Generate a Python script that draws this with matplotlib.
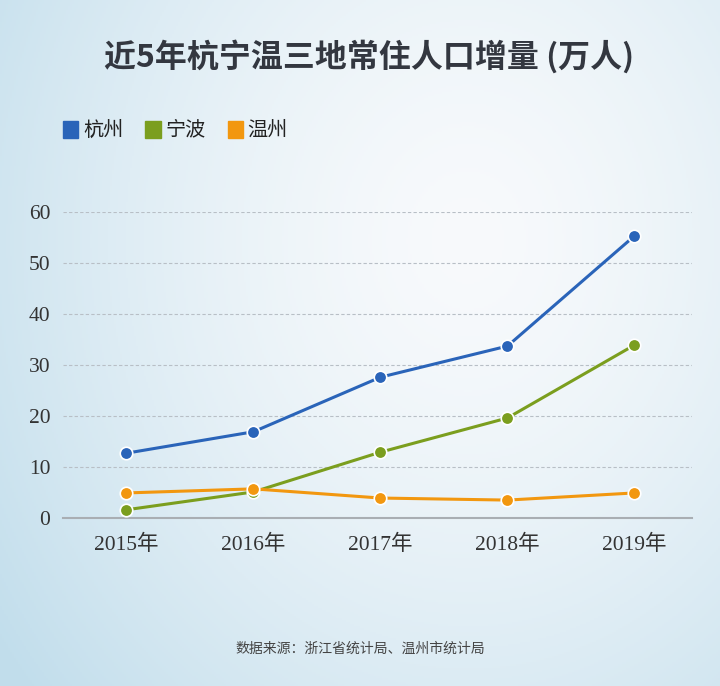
import numpy as np
import matplotlib
matplotlib.use("Agg")
import matplotlib.pyplot as plt

plt.rcParams['font.family'] = ['Noto Sans CJK SC', 'DejaVu Sans']

years = ["2015年", "2016年", "2017年", "2018年", "2019年"]
hangzhou = [12.7, 16.9, 27.6, 33.7, 55.3]
ningbo = [1.6, 5.1, 12.9, 19.6, 33.9]
wenzhou = [4.9, 5.7, 3.9, 3.5, 4.9]
series_names = ["杭州", "宁波", "温州"]
colors = ["#2a64b9", "#7b9e1e", "#f2970f"]
yticks = [0, 10, 20, 30, 40, 50, 60]

fig = plt.figure(figsize=(7.2, 6.86), dpi=100)

# background gradient: light blue at left / bottom-left, near white in middle
bg = fig.add_axes([0, 0, 1, 1], zorder=-10)
h, w = 343, 360
yy, xx = np.mgrid[0:1:h * 1j, 0:1:w * 1j]   # yy=0 top
d = np.sqrt(((xx - 0.65) / 0.8) ** 2 + ((yy - 0.35) / 1.0) ** 2)
t = np.clip(d, 0, 1) ** 1.5
white = np.array([0.972, 0.980, 0.988])
blue = np.array([0.76, 0.87, 0.925])
img = white[None, None, :] * (1 - t[..., None]) + blue[None, None, :] * t[..., None]
bg.imshow(img, extent=[0, 1, 0, 1], aspect="auto", origin="upper")
bg.set_axis_off()

ax = fig.add_axes([0.0875, 0.245, 0.873, 0.446])
ax.patch.set_alpha(0)
x = np.arange(len(years))
for vals, c in zip([hangzhou, ningbo, wenzhou], colors):
    ax.plot(x, vals, color=c, lw=2.2, marker="o", ms=9,
            mfc=c, mec="white", mew=1.2, zorder=3)

ax.set_ylim(0, 60)
ax.set_xlim(-0.5, 4.45)
ax.set_yticks(yticks)
ax.set_xticks(x)
ax.set_xticklabels(years)
ax.grid(axis="y", ls=(0, (3, 2)), color="#b8bfc6", lw=0.8)
ax.set_axisbelow(True)
for s in ["top", "right", "left"]:
    ax.spines[s].set_visible(False)
ax.spines["bottom"].set_color("#a9aeb3")
ax.spines["bottom"].set_linewidth(1.5)
ax.tick_params(length=0, pad=12, labelsize=15.5, labelcolor="#333333")
ax.tick_params(axis="y", pad=9)
for lab in ax.get_xticklabels() + ax.get_yticklabels():
    lab.set_family(["Liberation Serif", "Noto Sans CJK SC"])

fig.text(0.512, 0.917, "近5年杭宁温三地常住人口增量 (万人)", ha="center", va="center",
         fontsize=23, fontweight="bold", color="#333740")

# legend
lx = [0.088, 0.202, 0.316]
for xi, name, c in zip(lx, series_names, colors):
    fig.patches.append(plt.Rectangle((xi, 0.799), 0.021, 0.024, color=c,
                                     transform=fig.transFigure, figure=fig))
    fig.text(xi + 0.028, 0.810, name, ha="left", va="center", fontsize=14.5,
             color="#222222")

fig.text(0.5, 0.055, "数据来源：浙江省统计局、温州市统计局", ha="center", va="center",
         fontsize=10, color="#444444")

fig.savefig("out.png", dpi=100)
